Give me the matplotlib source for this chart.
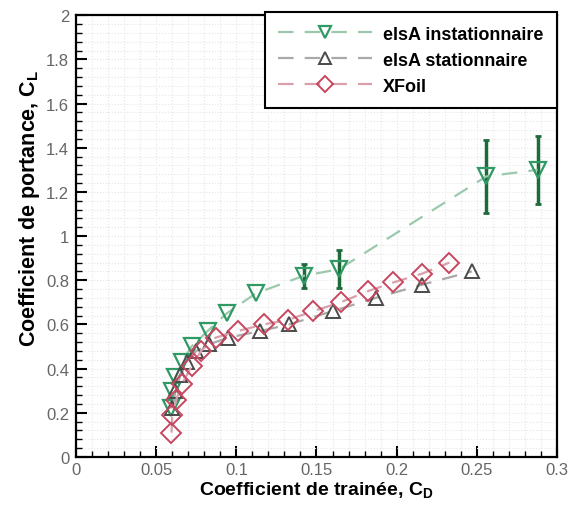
import numpy as np
import matplotlib
matplotlib.use('Agg')
import matplotlib.pyplot as plt
from matplotlib.ticker import MultipleLocator, AutoMinorLocator, FormatStrFormatter

plt.rcParams['font.family'] = ['Liberation Sans', 'DejaVu Sans']
plt.rcParams['mathtext.fontset'] = 'custom'
plt.rcParams['mathtext.rm'] = 'Liberation Sans:bold'
plt.rcParams['mathtext.it'] = 'Liberation Sans:bold'
plt.rcParams['mathtext.bf'] = 'Liberation Sans:bold'

# elsA instationnaire (unsteady)
cd_unsteady = [0.059, 0.060, 0.062, 0.066, 0.072, 0.082, 0.094, 0.112, 0.142, 0.164, 0.256, 0.288]
cl_unsteady = [0.22, 0.30, 0.36, 0.43, 0.50, 0.57, 0.65, 0.74, 0.82, 0.85, 1.27, 1.30]
err_unsteady = [0, 0, 0, 0, 0, 0, 0, 0, 0.055, 0.085, 0.165, 0.155]

# elsA stationnaire (steady)
cd_steady = [0.060, 0.062, 0.065, 0.069, 0.075, 0.083, 0.095, 0.115, 0.133, 0.160, 0.187, 0.216, 0.247]
cl_steady = [0.22, 0.30, 0.37, 0.43, 0.48, 0.51, 0.54, 0.57, 0.60, 0.66, 0.72, 0.78, 0.84]

# XFoil
cd_xfoil = [0.0595, 0.060, 0.0625, 0.066, 0.072, 0.078, 0.087, 0.101, 0.117, 0.132, 0.148, 0.165, 0.182, 0.198, 0.216, 0.233]
cl_xfoil = [0.11, 0.19, 0.26, 0.33, 0.41, 0.48, 0.54, 0.57, 0.60, 0.62, 0.66, 0.70, 0.75, 0.79, 0.83, 0.88]

fig = plt.figure(figsize=(5.77, 5.06), dpi=100)
ax = fig.add_axes([0.132, 0.095, 0.833, 0.873])

dash = (7, 5)

# error bars on the unsteady points
err = np.array(err_unsteady)
mask = err > 0
ax.errorbar(np.array(cd_unsteady)[mask], np.array(cl_unsteady)[mask], yerr=err[mask],
            fmt='none', ecolor='#1d6b3b', elinewidth=2.5, capsize=2.5, capthick=2, zorder=3)

ax.plot(cd_unsteady, cl_unsteady, linestyle='--', dashes=dash, color='#9cc9ad', lw=1.6,
        marker='v', ms=11, mfc='none', mec='#2f9a64', mew=1.6, label='elsA instationnaire', zorder=4)
ax.plot(cd_steady, cl_steady, linestyle='--', dashes=dash, color='#a9a9a9', lw=1.6,
        marker='^', ms=10, mfc='none', mec='#4a4a4a', mew=1.4, label='elsA stationnaire', zorder=4)
ax.plot(cd_xfoil, cl_xfoil, linestyle='--', dashes=dash, color='#d9a0ab', lw=1.6,
        marker='D', ms=10, mfc='none', mec='#c8465f', mew=1.4, label='XFoil', zorder=4)

ax.set_xlim(0, 0.3)
ax.set_ylim(0, 2)
ax.xaxis.set_major_locator(MultipleLocator(0.05))
ax.yaxis.set_major_locator(MultipleLocator(0.2))
ax.xaxis.set_minor_locator(AutoMinorLocator(5))
ax.yaxis.set_minor_locator(AutoMinorLocator(5))
ax.xaxis.set_major_formatter(FormatStrFormatter('%g'))
ax.yaxis.set_major_formatter(FormatStrFormatter('%g'))

ax.tick_params(which='both', direction='in', top=False, right=False,
               labelsize=12, labelcolor='#666666', width=1.5)
ax.tick_params(which='major', length=8)
ax.tick_params(which='minor', length=4, width=1)
ax.tick_params(axis='x', pad=4)
ax.tick_params(axis='y', pad=5)
ax.grid(which='both', color='#e6e6e6', linestyle=':', linewidth=0.8)
ax.set_axisbelow(True)
for s in ax.spines.values():
    s.set_linewidth(1.6)

ax.set_xlabel('Coefficient de trainée, C$_D$', fontsize=14, fontweight='bold', labelpad=1)
ax.set_ylabel('Coefficient de portance, C$_L$', fontsize=15.5, fontweight='bold', labelpad=3)
ax.yaxis.label.set_y(0.565)

leg = ax.legend(loc='upper right', bbox_to_anchor=(1.0, 1.007), borderaxespad=0,
                fancybox=False, framealpha=1, edgecolor='black', handlelength=5.2,
                handletextpad=0.6, borderpad=0.75, labelspacing=0.5, markerscale=0.8,
                prop={'weight': 'bold', 'size': 13})
leg.get_frame().set_linewidth(1.5)

fig.savefig('out.png', dpi=100)
